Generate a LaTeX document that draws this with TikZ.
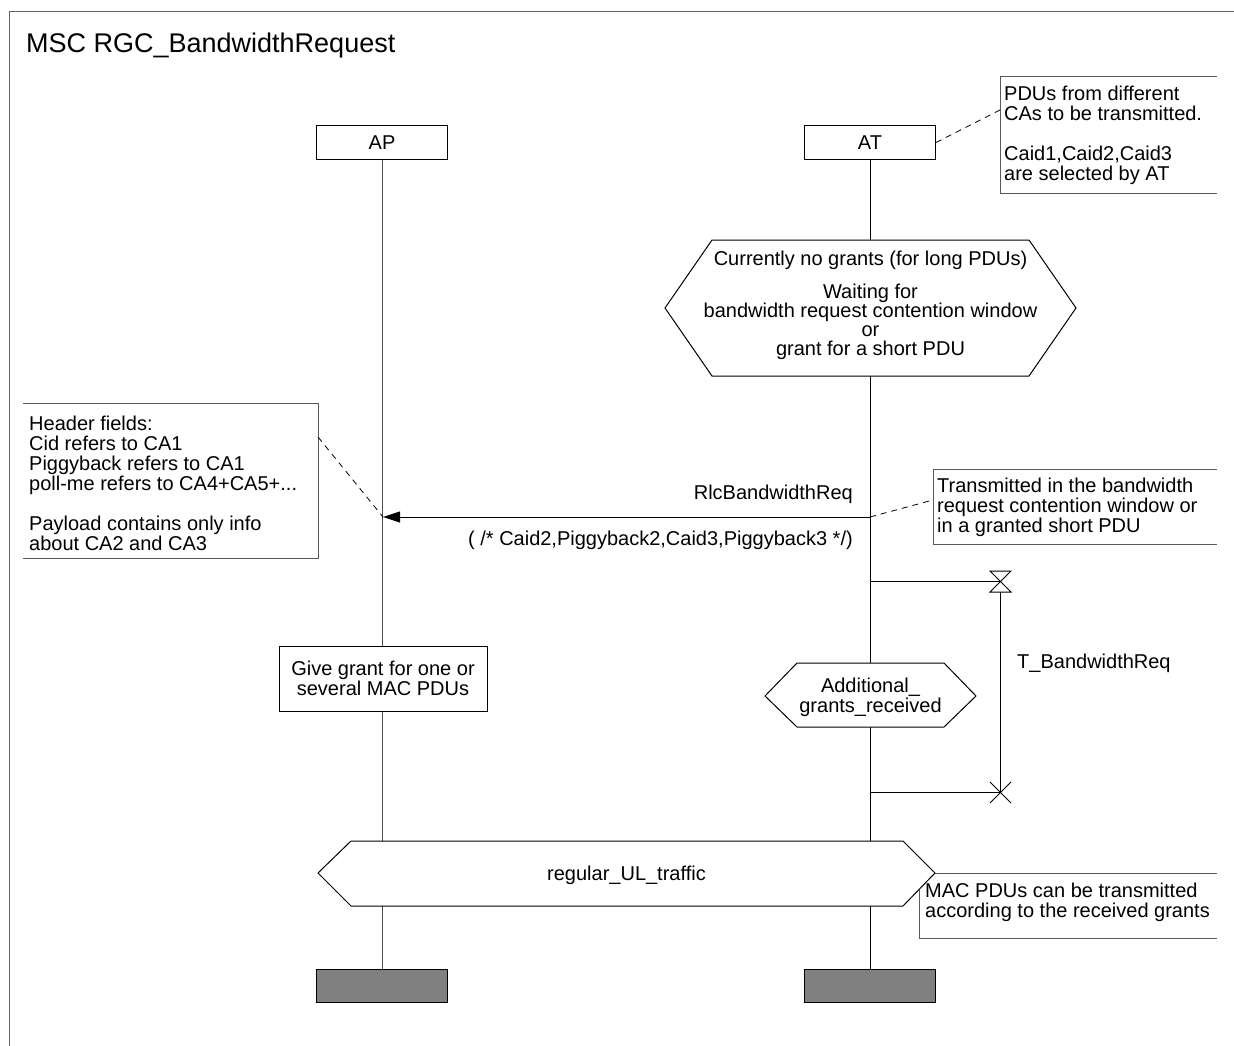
\documentclass[tikz,border=0pt]{standalone}
\usepackage{fontspec}
\setmainfont{Liberation Sans}
\usetikzlibrary{arrows.meta}
\begin{document}
\begin{tikzpicture}[x=1pt,y=-1pt,
  every node/.style={font=\fontsize{20}{20}\selectfont, inner sep=0pt},
  ln/.style={line width=1pt},
  headbox/.style={draw, line width=1pt, minimum width=131pt, minimum height=33pt},
  endbox/.style={draw, line width=1pt, fill=black!50, minimum width=131pt, minimum height=33pt},
  notebox/.style={draw=black!65, line width=1pt},
  notetxt/.style={anchor=west, align=left},
  cmt/.style={line width=0.8pt, dash pattern=on 6pt off 5pt},
  hexa/.style={draw, line width=1pt, fill=white}]
\useasboundingbox (0,0) rectangle (1234,1046);
% frame
\draw[line width=1pt, black!60] (9,1046) -- (9,12) -- (1234,12);
\node[anchor=base west, font=\fontsize{27}{30}\selectfont] (title) at (26,53) {MSC RGC\_BandwidthRequest};
% instance heads and ends
\node[headbox] (AP) at (382,142.5) {AP};
\node[headbox] (AT) at (870,142.5) {AT};
\node[endbox] (APend) at (382,985.5) {};
\node[endbox] (ATend) at (870,985.5) {};
% lifelines
\draw[ln, black!70] (AP.south) -- (APend.north);
\draw[ln] (AT.south) -- (ATend.north);
% condition: waiting
\draw[hexa] (665,308) -- (712,240) -- (1029,240) -- (1076,308) -- (1029,376) -- (712,376) -- cycle;
\node[align=center, font=\fontsize{20}{19}\selectfont] (cond) at (870.5,305) {Currently no grants (for long PDUs)\\[14pt]Waiting for\\bandwidth request contention window\\or\\grant for a short PDU};
% message
\coordinate (msgAT) at (870,517);
\coordinate (msgAP) at (383,517);
\draw[ln, -{Triangle[length=17pt,width=11pt]}] (msgAT) -- (msgAP);
\node[anchor=east] (msglbl) at (853,494) {RlcBandwidthReq};
\node[anchor=east] (msgpar) at (853,540) {( /* Caid2,Piggyback2,Caid3,Piggyback3 */)};
% timer
\coordinate (tset) at (870,581);
\coordinate (tsetend) at (1000,581);
\coordinate (texp) at (870,792);
\coordinate (texpend) at (1000,792);
\draw[ln] (tset) -- (tsetend);
\draw[ln] (990,571) -- (1011,571) -- (990,592) -- (1011,592) -- cycle;
\draw[ln] (1000,592) -- (texpend);
\draw[ln] (texp) -- (texpend);
\draw[ln] (990,782) -- (1011,803) (990,803) -- (1011,782);
\node[anchor=west] (tname) at (1017,663) {T\_BandwidthReq};
% condition: additional grants
\draw[hexa] (765,696) -- (797,663) -- (944,663) -- (976,696) -- (944,727) -- (797,727) -- cycle;
\node[align=center] (addg) at (870.5,697) {Additional\_\\grants\_received};
% action
\node[draw, line width=1pt, fill=white, minimum width=208pt, minimum height=65pt, align=center] (act) at (383,678.5) {Give grant for one or\\several MAC PDUs};
% note 3 (under big hexagon)
\draw[notebox] (1217,873) -- (919,873) -- (919,938) -- (1217,938);
\node[notetxt] (n3) at (925,902) {MAC PDUs can be transmitted\\according to the received grants};
% big condition
\draw[hexa] (318,873) -- (351,841) -- (903,841) -- (935,873) -- (903,906) -- (351,906) -- cycle;
\node (reg) at (626.5,875) {regular\_UL\_traffic};
% note 1
\draw[notebox] (1217,77) -- (1000,77) -- (1000,193) -- (1217,193);
\node[notetxt] (n1) at (1004,135.5) {PDUs from different\\CAs to be transmitted.\\[20pt]Caid1,Caid2,Caid3\\are selected by AT};
\coordinate (n1att) at (1000,110);
\draw[cmt] (AT.east) -- (n1att);
% note left
\draw[notebox] (23,403) -- (318,403) -- (318,558) -- (23,558);
\node[notetxt] (n0) at (29,483) {Header fields:\\Cid refers to CA1\\Piggyback refers to CA1\\poll-me refers to CA4+CA5+...\\[20pt]Payload contains only info\\about CA2 and CA3};
\coordinate (n0att) at (318,437);
\draw[cmt] (n0att) -- (msgAP);
% note 2
\draw[notebox] (1217,469) -- (933,469) -- (933,544) -- (1217,544);
\node[notetxt] (n2) at (937,507) {Transmitted in the bandwidth\\request contention window or\\in a granted short PDU};
\coordinate (n2att) at (933,500);
\draw[cmt] (msgAT) -- (n2att);
\end{tikzpicture}
\end{document}
